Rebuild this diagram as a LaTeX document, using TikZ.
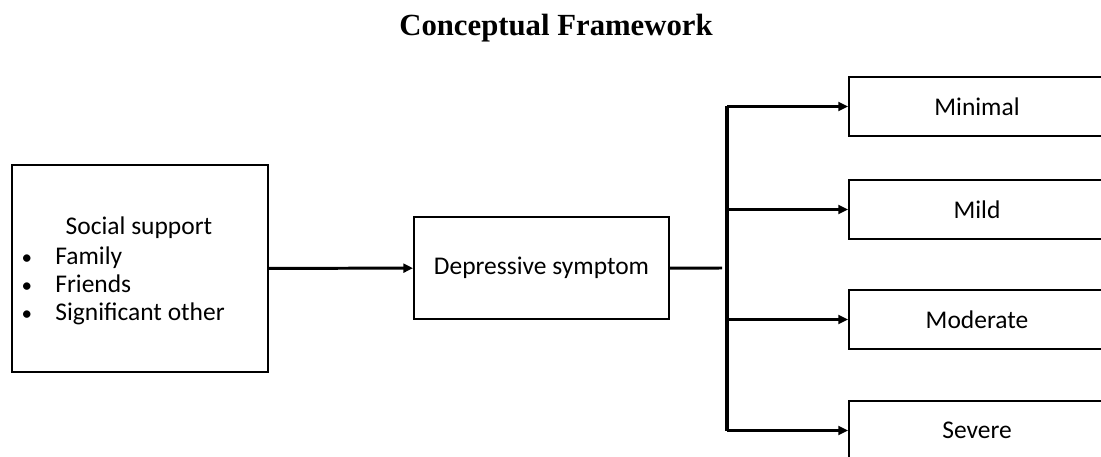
\documentclass[tikz,border=0pt]{standalone}
\usepackage{fontspec}
\setmainfont{Carlito}
\newfontfamily\titlefont{Liberation Serif}
\usetikzlibrary{arrows.meta}
\tikzset{
	box/.style={draw,line width=1.1pt,minimum width=256*0.02cm,minimum height=59*0.02cm,inner sep=0pt},
	arr/.style={line width=1.7pt,-{Triangle[length=5.5pt,width=5pt]}},
	lbl/.style={font=\fontsize{14.5}{16}\selectfont,inner sep=0pt},
	dot/.style={font=\fontsize{12}{14}\selectfont,inner sep=0pt,anchor=base}
}
\begin{document}
\begin{tikzpicture}[x=0.02cm,y=-0.02cm]
		\useasboundingbox (0,0) rectangle (1101,456);
		\clip (0,0) rectangle (1101,456);
		\node[anchor=base,inner sep=0pt,font=\titlefont\bfseries\fontsize{17.5}{20}\selectfont] (title) at (556,36) {Conceptual Framework};
		\node[box,minimum width=256*0.02cm,minimum height=207*0.02cm] (social) at (140,268.5) {};
		\node[lbl,anchor=base] (head) at (139,234) {Social support};
		\node[dot] (b1) at (27,264) {\textbullet};
		\node[lbl,anchor=base west] (family) at (55,264) {Family};
		\node[dot] (b2) at (27,292) {\textbullet};
		\node[lbl,anchor=base west] (friends) at (55,292) {Friends};
		\node[dot] (b3) at (27,320) {\textbullet};
		\node[lbl,anchor=base west] (other) at (55,320) {Significant other};
		\node[box,lbl,minimum width=255*0.02cm,minimum height=102*0.02cm] (depr) at (541.5,268) {Depressive symptom};
		\node[box,lbl] (minimal) at (977,106.5) {Minimal};
		\node[box,lbl] (mild) at (977,209.5) {Mild};
		\node[box,lbl] (moderate) at (977,319.5) {Moderate};
		\node[box,lbl] (severe) at (977,430.5) {Severe};
		\coordinate (bar) at (727,106);
		\coordinate (barend) at (727,431);
		\coordinate (join) at (722,268);
		\draw[arr] (social) -- (depr);
		\draw[line width=1.7pt] (depr.east) ++(0,0.06) -- (join);
		\draw[line width=1.8pt] (bar) -- (barend);
		\draw[arr] (minimal.west -| bar) -- (minimal.west);
		\draw[arr] (mild.west -| bar) -- (mild.west);
		\draw[arr] (moderate.west -| bar) -- (moderate.west);
		\draw[arr] (severe.west -| bar) -- (severe.west);
	\end{tikzpicture}
\end{document}
